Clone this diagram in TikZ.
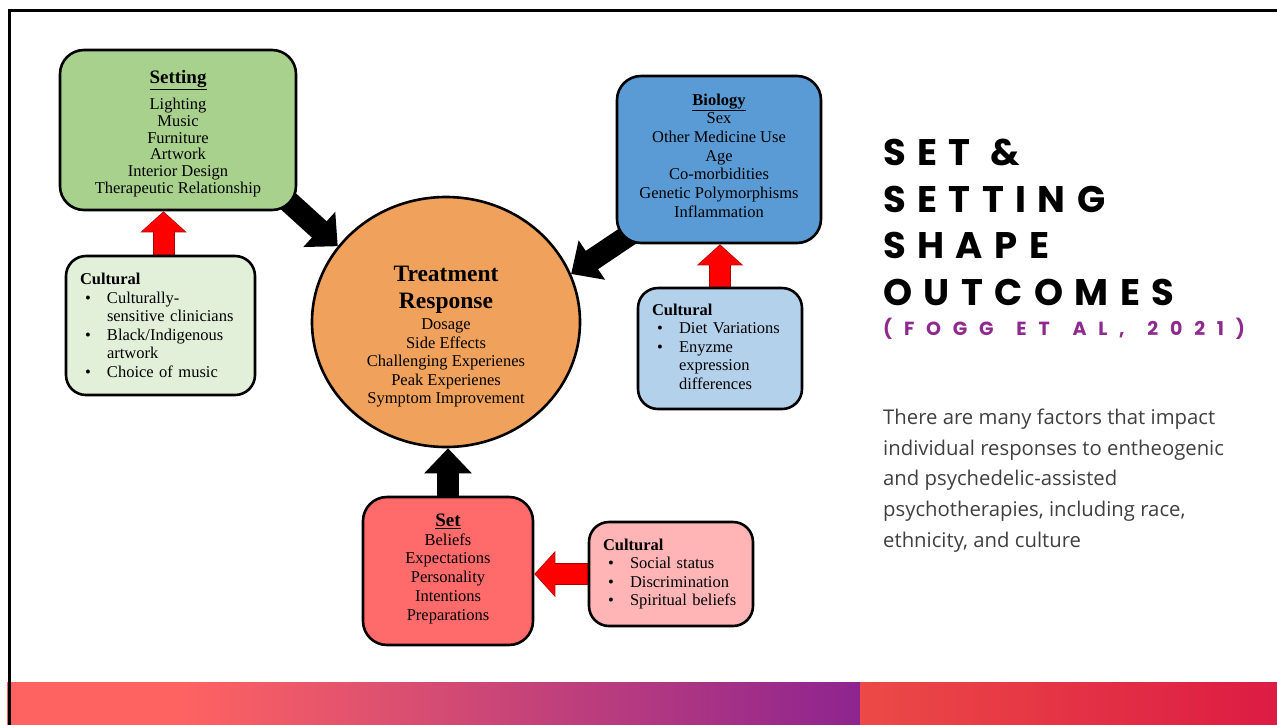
\documentclass[tikz,border=0pt]{standalone}
\usepackage{fontspec}
\setmainfont{Liberation Serif}
\newfontfamily\headfont{Poppins}[LetterSpace=31]
\newfontfamily\citefont{Poppins}[LetterSpace=62]
\newfontfamily\bodyfont{Open Sans}
\usetikzlibrary{shapes.geometric,arrows.meta,backgrounds}

\definecolor{settinggreen}{HTML}{A9D18E}
\definecolor{settinglight}{HTML}{E2F0D9}
\definecolor{biologyblue}{HTML}{5B9BD5}
\definecolor{biologylight}{HTML}{B4D1EC}
\definecolor{responseorange}{HTML}{F0A25D}
\definecolor{setred}{HTML}{FF6B6B}
\definecolor{setlight}{HTML}{FFB5B5}
\definecolor{arrowred}{HTML}{FF0000}
\definecolor{arrowedge}{HTML}{B00000}
\definecolor{citepurple}{HTML}{8E2A8E}
\definecolor{bodygray}{HTML}{3F3F3F}
\definecolor{bandcoral}{HTML}{FF6361}
\definecolor{bandpurple}{HTML}{8E2490}
\definecolor{bandred}{HTML}{EC4A46}
\definecolor{banddeep}{HTML}{DC1B44}

\newcommand\headsize{\fontsize{19}{21}\selectfont\bfseries}
\newcommand\bul{\hspace*{5pt}\makebox[22pt][l]{\textbullet}}
\newcommand\ind{\hspace*{27pt}}

\tikzset{
  factor/.style={draw, line width=2.6pt, rounded corners=24pt, align=center, inner sep=4pt,
    font=\fontsize{16.5}{18.7}\selectfont},
  cultural/.style={draw, line width=2.6pt, rounded corners=20pt, align=left, inner xsep=14pt,
    font=\fontsize{16.5}{18.5}\selectfont},
  blackarrow/.style={line width=22pt, -{Triangle[width=46pt,length=25pt]}},
  redarrow/.style={draw=arrowred, line width=20pt, -{Triangle[width=42pt,length=19pt]}, shorten >=1.2pt,
    preaction={draw=arrowedge, line width=22pt, -{Triangle[width=45pt,length=21pt]}, shorten >=0pt}}
}

\begin{document}
\begin{tikzpicture}[x=1pt,y=-1pt]
    \useasboundingbox (0,0) rectangle (1277,724);

    % frame and bottom band
    \fill[bandcoral] (7,682) rectangle (181,730);
    \shade[left color=bandcoral, right color=bandpurple] (180,682) rectangle (860,730);
    \shade[left color=bandred, right color=banddeep] (860,682) rectangle (1280,730);
    \draw[line width=2.4pt] (9.5,730) -- (9.5,10.5) -- (1280,10.5);

    \node[factor, fill=settinggreen, minimum width=236, minimum height=160, font=\fontsize{16.5}{16.8}\selectfont] (setting) at (178,130)
        {{\headsize\rule{0pt}{21pt}\underline{Setting}}\\[7pt]
         Lighting\\Music\\Furniture\\Artwork\\Interior Design\\Therapeutic Relationship};
    \node[cultural, fill=settinglight, minimum width=189, minimum height=139, text width=161pt] (culL) at (160.5,325.5)
        {\textbf{Cultural}\\ \bul Culturally-\\ \ind sensitive clinicians\\ \bul Black/Indigenous\\ \ind artwork\\ \bul Choice of music};

    \node[factor, fill=biologyblue, minimum width=204, minimum height=167] (bio) at (719,159.5)
        {\textbf{\underline{Biology}}\\Sex\\Other Medicine Use\\Age\\Co-morbidities\\Genetic Polymorphisms\\Inflammation\rule[-8pt]{0pt}{8pt}};
    \node[cultural, fill=biologylight, minimum width=164, minimum height=121, text width=136pt] (culR) at (720,348.5)
        {\textbf{Cultural}\\ \bul Diet Variations\\ \bul Enyzme\\ \ind expression\\ \ind differences\rule[-3.5pt]{0pt}{3.5pt}};

    \node[draw, line width=2.6pt, ellipse, fill=responseorange, minimum width=268, minimum height=250, inner sep=0] (resp) at (446,322) {};
    \node[align=center, anchor=north, inner sep=0, font=\fontsize{16.5}{18.5}\selectfont] (resptext) at (446,266)
        {{\fontsize{23.5}{26}\selectfont\bfseries Treatment}\\[8.5pt]
         {\fontsize{23.5}{26}\selectfont\bfseries Response}\\[2.5pt]
         Dosage\\Side Effects\\Challenging Experienes\\Peak Experienes\\Symptom Improvement};

    \node[factor, fill=setred, minimum width=170, minimum height=148] (set) at (448,571)
        {{\headsize\underline{Set}}\\Beliefs\\Expectations\\Personality\\Intentions\\Preparations\rule[-8pt]{0pt}{8pt}};
    \node[cultural, fill=setlight, minimum width=164, minimum height=104, text width=136pt] (culB) at (671,574)
        {\textbf{Cultural}\\ \bul Social status\\ \bul Discrimination\\ \bul Spiritual beliefs};

    \begin{scope}[on background layer]
        \draw[blackarrow] ([shift={(-9,-10)}]setting.south east) -- (resp.145);
        \draw[blackarrow] ([shift={(16,-11)}]bio.south west) -- (resp.21);
        \draw[blackarrow] (set.north) -- (set.north |- resp.south);
        \draw[redarrow] ([xshift=3pt]culL.north) -- ([xshift=3pt]culL.north |- setting.south);
        \draw[redarrow] (culR.north) -- (culR.north |- bio.south);
        \draw[redarrow] (culB.west) -- (culB.west -| set.east);
    \end{scope}

    \node[anchor=north west, inner sep=0, align=left, font={\headfont\bfseries\fontsize{37}{46.5}\selectfont}] (title) at (883,139)
        {SET \&\\SETTING\\SHAPE\\OUTCOMES};
    \node[anchor=base west, inner sep=0, text=citepurple, font={\citefont\bfseries\fontsize{19}{22}\selectfont}] (cite) at (883,335)
        {(FOGG \hspace{7pt}ET \hspace{7pt}AL, \hspace{7pt}2021)};
    \node[anchor=north west, inner sep=0, align=left, text=bodygray, font={\bodyfont\fontsize{20.3}{30.6}\selectfont}] (summary) at (883,409)
        {There are many factors that impact\\individual responses to entheogenic\\and psychedelic-assisted\\psychotherapies, including race,\\ethnicity, and culture};
\end{tikzpicture}
\end{document}
